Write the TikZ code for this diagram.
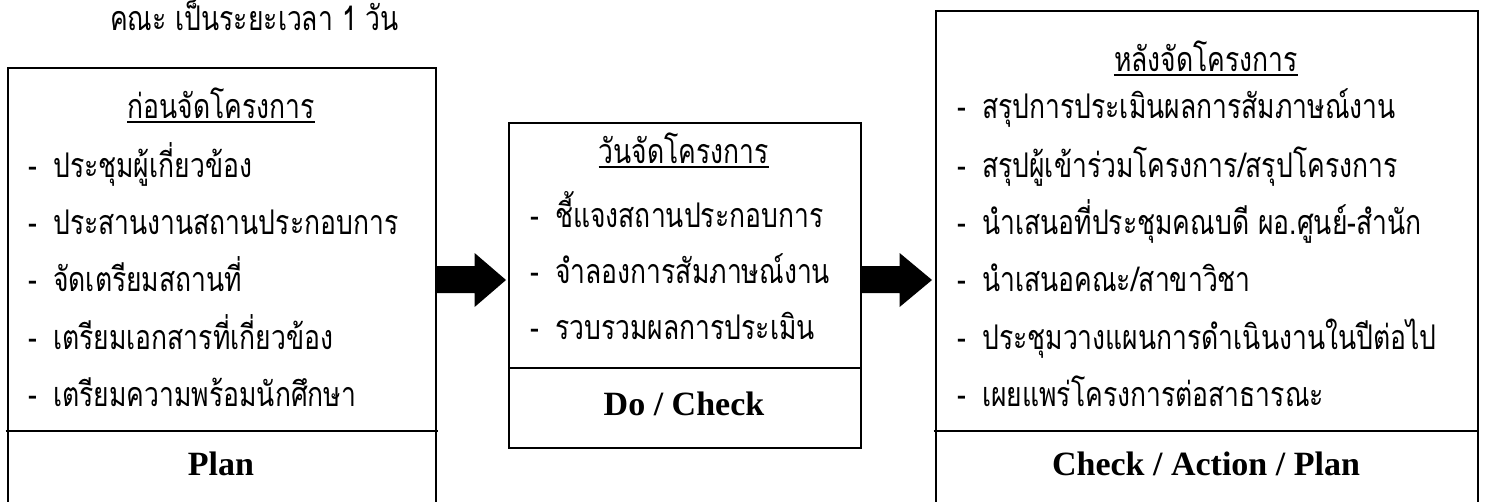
\documentclass[tikz,border=0pt]{standalone}
\usepackage{fontspec}
\setmainfont{Liberation Serif}
\newfontfamily\thai[Script=Thai,FakeStretch=0.78]{Loma}
\usetikzlibrary{calc}
\tikzset{
  boxframe/.style={draw=black, line width=1.6pt, inner sep=0pt, anchor=north west},
  divider/.style={line width=1.8pt},
  thaiitem/.style={font=\thai\fontsize{34}{34}\selectfont, inner sep=0pt, anchor=base west},
  thaihead/.style={font=\thai\fontsize{34}{34}\selectfont, inner sep=0pt, anchor=base},
  headline/.style={line width=1.5pt},
  phase/.style={font=\bfseries\fontsize{34}{34}\selectfont, inner sep=0pt, anchor=base},
  blockarrow/.style={fill=black, draw=none},
}
\newcommand{\dashitem}[1]{\makebox[25pt][l]{-}#1}
\begin{document}
\begin{tikzpicture}[x=1pt,y=-1pt]
\useasboundingbox (0,0) rectangle (1485,501);
\fill[white] (0,0) rectangle (1485,501);
\clip (0,0) rectangle (1485,501);

% top note
\node[thaiitem] (note) at (110,30) {คณะ เป็นระยะเวลา 1 วัน};

% boxes
\node[boxframe, minimum width=428pt, minimum height=470pt] (planbox) at (7,67) {};
\node[boxframe, minimum width=352pt, minimum height=325pt] (dobox) at (508,122) {};
\node[boxframe, minimum width=542pt, minimum height=530pt] (actbox) at (935,10) {};

% dividers
\draw[divider] ($(planbox.west |- 0,431)+(-1.5,0)$) -- ($(planbox.east |- 0,431)+(1.5,0)$);
\draw[divider] (dobox.west |- 0,368) -- (dobox.east |- 0,368);
\draw[divider] ($(actbox.west |- 0,431)+(-1.5,0)$) -- (actbox.east |- 0,431);

% left box
\node[thaihead] (h1) at (221,118) {ก่อนจัดโครงการ};
\draw[headline] ($(h1.base west)+(0,4)$) -- ($(h1.base east)+(0,4)$);
\node[thaiitem] (p1) at (28,177) {\dashitem{ประชุมผู้เกี่ยวข้อง}};
\node[thaiitem] (p2) at (28,234) {\dashitem{ประสานงานสถานประกอบการ}};
\node[thaiitem] (p3) at (28,291) {\dashitem{จัดเตรียมสถานที่}};
\node[thaiitem] (p4) at (28,349) {\dashitem{เตรียมเอกสารที่เกี่ยวข้อง}};
\node[thaiitem] (p5) at (28,406) {\dashitem{เตรียมความพร้อมนักศึกษา}};
\node[phase] (plan) at (221,475) {Plan};

% middle box
\node[thaihead] (h2) at (684,163) {วันจัดโครงการ};
\draw[headline] ($(h2.base west)+(0,4)$) -- ($(h2.base east)+(0,4)$);
\node[thaiitem] (d1) at (530,227) {\dashitem{ชี้แจงสถานประกอบการ}};
\node[thaiitem] (d2) at (530,283) {\dashitem{จำลองการสัมภาษณ์งาน}};
\node[thaiitem] (d3) at (530,339) {\dashitem{รวบรวมผลการประเมิน}};
\node[phase] (docheck) at (684,415) {Do / Check};

% right box
\node[thaihead] (h3) at (1206,71) {หลังจัดโครงการ};
\draw[headline] ($(h3.base west)+(0,4)$) -- ($(h3.base east)+(0,4)$);
\node[thaiitem] (a1) at (957,118) {\dashitem{สรุปการประเมินผลการสัมภาษณ์งาน}};
\node[thaiitem] (a2) at (957,177) {\dashitem{สรุปผู้เข้าร่วมโครงการ/สรุปโครงการ}};
\node[thaiitem] (a3) at (957,234) {\dashitem{นำเสนอที่ประชุมคณบดี ผอ.ศูนย์-สำนัก}};
\node[thaiitem] (a4) at (957,291) {\dashitem{นำเสนอคณะ/สาขาวิชา}};
\node[thaiitem] (a5) at (957,349) {\dashitem{ประชุมวางแผนการดำเนินงานในปีต่อไป}};
\node[thaiitem] (a6) at (957,406) {\dashitem{เผยแพร่โครงการต่อสาธารณะ}};
\node[phase] (cap) at (1206,475) {Check / Action / Plan};

% block arrows
\coordinate (arr1s) at (planbox.east |- 0,280);
\coordinate (arr1e) at (506,280);
\fill[blockarrow] ($(arr1s)+(0,-14)$) -- ++(38,0) -- ++(0,-13) -- (arr1e)
  -- ($(arr1s)+(38,27)$) -- ++(0,-14) -- ($(arr1s)+(0,13)$) -- cycle;
\coordinate (arr2s) at (dobox.east |- 0,280);
\coordinate (arr2e) at (932,280);
\fill[blockarrow] ($(arr2s)+(0,-14)$) -- ++(38,0) -- ++(0,-13) -- (arr2e)
  -- ($(arr2s)+(38,27)$) -- ++(0,-14) -- ($(arr2s)+(0,13)$) -- cycle;
\end{tikzpicture}
\end{document}
